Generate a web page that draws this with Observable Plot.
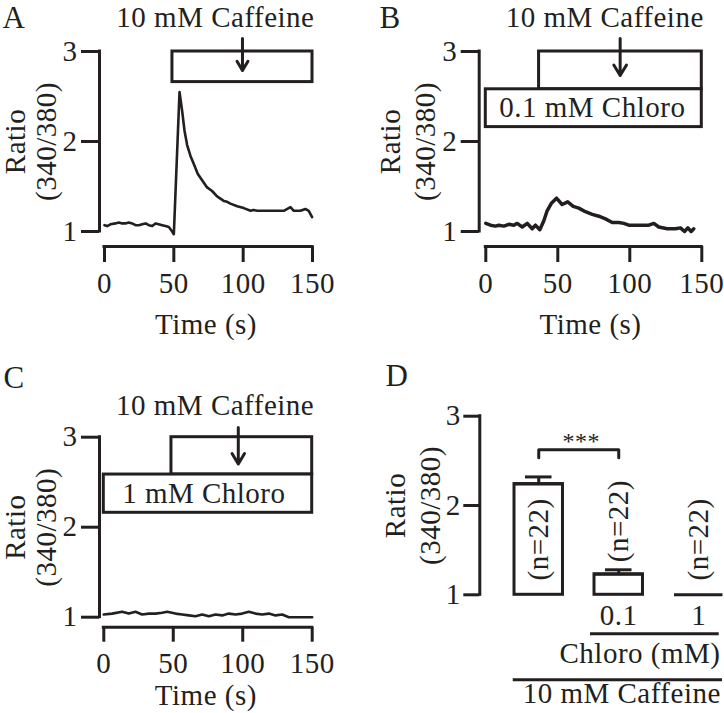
<!DOCTYPE html>
<html>
<head>
<meta charset="utf-8">
<script src="https://cdn.jsdelivr.net/npm/d3@7"></script>
<script src="https://cdn.jsdelivr.net/npm/@observablehq/plot@0.6"></script>
<style>
  body { margin: 0; background: #fff; }
  #fig { position: relative; width: 724px; height: 713px; overflow: hidden; background: #fff; }
  #fig > svg { position: absolute; }
</style>
</head>
<body>
<div id="fig"></div>
<script>
// ---------- data ----------
const timeTicks = [0, 50, 100, 150];
const ratioTicks = [1, 2, 3];

// Panel A: 10 mM caffeine alone
const timeA = [0, 1.9, 4.3, 7.9, 10.3, 12.7, 15.1, 17.5, 19.9, 22.4, 24.8, 27.2, 29.6, 32, 34.4, 36.8, 39.1, 41.6, 44, 46.4, 48.8, 50, 54.1, 56, 57.7, 59.6, 62, 64.4, 67.3, 70.4, 74, 77.6, 81.2, 86, 88.5, 90.8, 95.7, 100.4, 105.3, 107.5, 110, 119.7, 124, 129.3, 134.1, 136.5, 141.3, 144.9, 147.3, 149.7];
const ratioA = [1.07, 1.06, 1.08, 1.09, 1.10, 1.09, 1.09, 1.10, 1.09, 1.07, 1.07, 1.08, 1.09, 1.07, 1.06, 1.09, 1.08, 1.07, 1.06, 1.05, 1.00, 0.97, 2.55, 2.34, 2.12, 1.96, 1.84, 1.75, 1.64, 1.57, 1.49, 1.45, 1.39, 1.34, 1.33, 1.31, 1.28, 1.26, 1.23, 1.24, 1.23, 1.23, 1.23, 1.23, 1.27, 1.23, 1.23, 1.25, 1.23, 1.16];

// Panel B: 0.1 mM chloroquine + caffeine
const timeB = [0, 3.3, 6.7, 9, 12.5, 16, 19.4, 21.8, 25.3, 28.8, 32.2, 34.5, 37.5, 40.3, 42.6, 45.4, 49.1, 53, 56.9, 60.7, 64.6, 69.2, 73.9, 78.5, 83.1, 87.8, 92.4, 95.8, 99.3, 105.1, 109.7, 113.2, 116.7, 120.1, 126, 131.7, 135.2, 138, 140.3, 142.6, 144.4];
const ratioB = [1.09, 1.07, 1.06, 1.07, 1.06, 1.08, 1.07, 1.09, 1.05, 1.09, 1.03, 1.07, 1.02, 1.12, 1.23, 1.31, 1.37, 1.30, 1.33, 1.28, 1.26, 1.22, 1.19, 1.17, 1.14, 1.10, 1.10, 1.09, 1.07, 1.07, 1.07, 1.07, 1.09, 1.05, 1.03, 1.03, 1.04, 1.00, 1.04, 1.00, 1.03];

// Panel C: 1 mM chloroquine + caffeine
const timeC = [0, 6, 13.2, 18, 22.8, 27.6, 32.4, 37.2, 42, 45.6, 51.6, 56.4, 61.2, 66, 70.8, 75.6, 80.4, 85.2, 90, 94.8, 99.6, 104.4, 109.2, 114, 118.8, 123.6, 128.4, 133.2, 150];
const ratioC = [1.03, 1.04, 1.06, 1.04, 1.06, 1.03, 1.04, 1.04, 1.05, 1.06, 1.04, 1.03, 1.02, 1.01, 1.03, 1.01, 1.03, 1.02, 1.04, 1.03, 1.04, 1.06, 1.04, 1.03, 1.04, 1.02, 1.03, 1.00, 1.00];

// Panel D: peak ratio summary
const conditions = ["Caffeine", "0.1", "1"];
const tickLabels = ["", "0.1", "1"];
const peakMeans = [2.24, 1.23, 1.00];
const peakSems = [0.08, 0.05, 0];
const nCells = [22, 22, 22];

// ---------- drawing ----------
const FONT = "'Liberation Serif', 'Times New Roman', serif";
const INK = "#231f20";
const fig = document.getElementById("fig");
const intFmt = d3.format("d");

function place(svg, left, top) {
  svg.style.left = left + "px";
  svg.style.top = top + "px";
  fig.appendChild(svg);
}

function baseStyle() {
  return {fontFamily: FONT, fontSize: "29px", color: INK, background: "transparent", letterSpacing: "0.5px"};
}

function tracePanel(c) {
  const rows = c.time.map((t, i) => ({t, r: c.ratio[i]}));
  const marks = [
    Plot.ruleX([0], {y1: 1, y2: 3, dx: -c.insetLeft, stroke: INK, strokeWidth: 3, strokeLinecap: "square"}),
    Plot.axisY({ticks: ratioTicks, tickFormat: intFmt, tickSize: 18, tickPadding: 4, strokeWidth: 3, label: null}),
    Plot.ruleY([1], {x1: 0, x2: 150, dy: c.insetBottom, stroke: INK, strokeWidth: 3, strokeLinecap: "square"}),
    Plot.axisX({ticks: timeTicks, tickFormat: intFmt, tickSize: c.xTickSize, tickPadding: 10, strokeWidth: 3, label: null}),
    Plot.line(rows, {x: "t", y: "r", stroke: INK, strokeWidth: c.lineWidth}),
    Plot.rect(c.boxes, {x1: "x1", x2: "x2", y1: "y1", y2: "y2", fill: "white", stroke: INK, strokeWidth: 3}),
    Plot.text(c.boxes.filter(b => b.label), {x: "tx", y: d => (d.y1 + d.y2) / 2, text: "label", lineAnchor: "middle"}),
    Plot.arrow([c.arrow], {x1: "x", x2: "x", y1: "y1", y2: "y2", stroke: INK, strokeWidth: 3, headLength: 15, headAngle: 62}),
    Plot.text(["10 mM Caffeine"], {x: 150, frameAnchor: "top", dy: c.caffDy, dx: 2, textAnchor: "end", lineAnchor: "middle"}),
    Plot.text(["Time (s)"], {frameAnchor: "bottom", dy: c.timeDy, textAnchor: "middle", lineAnchor: "middle"}),
    Plot.text(["Ratio"], {y: [2], frameAnchor: "left", dx: c.ylab[0], rotate: -90, textAnchor: "middle", lineAnchor: "middle"}),
    Plot.text(["(340/380)"], {y: [2], frameAnchor: "left", dx: c.ylab[1], rotate: -90, textAnchor: "middle", lineAnchor: "middle"}),
    Plot.text([c.letter], {frameAnchor: "top-left", dx: c.letterPos[0], dy: c.letterPos[1], fontSize: 31, textAnchor: "start", lineAnchor: "top"})
  ];
  const svg = Plot.plot({
    width: c.width, height: c.height,
    marginLeft: c.mL, marginRight: c.mR, marginTop: c.mT, marginBottom: c.mB,
    style: baseStyle(),
    x: {domain: [0, 150], insetLeft: c.insetLeft},
    y: {domain: [1, 3], insetBottom: c.insetBottom},
    marks
  });
  place(svg, c.left, c.top);
}

// Panel A
tracePanel({
  letter: "A", time: timeA, ratio: ratioA, lineWidth: 2.6,
  left: 0, top: 0, width: 362, height: 340,
  mL: 99, mR: 50, mT: 51, mB: 94, insetLeft: 5, insetBottom: 15, xTickSize: 16,
  boxes: [{x1: 49, x2: 150, y1: 2.66, y2: 3}],
  arrow: {x: 99.5, y1: 3.144, y2: 2.79},
  caffDy: -34, timeDy: 78, ylab: [-84, -53], letterPos: [-97, -46]
});

// Panel B
tracePanel({
  letter: "B", time: timeB, ratio: ratioB, lineWidth: 3.5,
  left: 362, top: 0, width: 362, height: 340,
  mL: 116.7, mR: 22.7, mT: 51, mB: 94, insetLeft: 6.6, insetBottom: 15, xTickSize: 16,
  boxes: [
    {x1: 37, x2: 150, y1: 2.58, y2: 3},
    {x1: 0, x2: 150, y1: 2.16, y2: 2.58, label: "0.1 mM Chloro", tx: 74}
  ],
  arrow: {x: 93.3, y1: 3.144, y2: 2.733},
  caffDy: -34, timeDy: 78, ylab: [-88.4, -53.4], letterPos: [-99.7, -46]
});

// Panel C
tracePanel({
  letter: "C", time: timeC, ratio: ratioC, lineWidth: 2.6,
  left: 0, top: 340, width: 362, height: 373,
  mL: 99, mR: 50.3, mT: 96.7, mB: 86.3, insetLeft: 4.3, insetBottom: 10, xTickSize: 15,
  boxes: [
    {x1: 48.7, x2: 150, y1: 2.585, y2: 3},
    {x1: 0, x2: 150, y1: 2.16, y2: 2.585, label: "1 mM Chloro", tx: 72}
  ],
  arrow: {x: 96.8, y1: 3.108, y2: 2.703},
  caffDy: -31.7, timeDy: 68.3, ylab: [-84, -53], letterPos: [-96, -71.5]
});

// Panel D (bars placed on an index axis: 0 = caffeine alone, 1 = +0.1 mM, 2 = +1 mM chloro)
(function () {
  const rows = conditions.map((c, i) => ({i, cond: c, mean: peakMeans[i], sem: peakSems[i], n: nCells[i]}));
  const withErr = rows.filter(d => d.sem > 0);
  const half = 0.303, cap = 0.166;
  const inset = 18.95;
  const bracket = [
    {x: 0, y: 2.534}, {x: 0, y: 2.624}, {x: 1, y: 2.624}, {x: 1, y: 2.534}
  ];
  const svg = Plot.plot({
    width: 362, height: 373,
    marginLeft: 117.3, marginRight: 0, marginTop: 75.7, marginBottom: 118.7,
    style: baseStyle(),
    x: {domain: [-0.5, 2.322], insetLeft: inset},
    y: {domain: [1, 3]},
    marks: [
      Plot.axisY({ticks: ratioTicks, tickFormat: intFmt, tickSize: 16, tickPadding: 3, strokeWidth: 3, stroke: INK, label: null}),
      Plot.ruleX([-0.5], {y1: 1, y2: 3, dx: -inset, stroke: INK, strokeWidth: 3, strokeLinecap: "square"}),
      Plot.axisX({ticks: [1, 2], tickSize: 0, tickPadding: 10, tickFormat: i => tickLabels[i], label: null}),
      Plot.rect(rows, {x1: d => d.i - half, x2: d => d.i + half, y1: 1, y2: "mean", fill: "white", stroke: INK, strokeWidth: 3}),
      Plot.ruleY(rows, {x1: d => d.i - half, x2: d => d.i + half, y: "mean", stroke: INK, strokeWidth: 3}),
      Plot.ruleX(withErr, {x: "i", y1: "mean", y2: d => d.mean + d.sem, stroke: INK, strokeWidth: 3}),
      Plot.ruleY(withErr, {x1: d => d.i - cap, x2: d => d.i + cap, y: d => d.mean + d.sem, stroke: INK, strokeWidth: 3}),
      Plot.text(rows, {x: "i", y: d => (d.sem > 0 && d.mean < 1.5) ? d.mean + d.sem + 0.085 : 1.16,
        text: d => `(n=${d.n})`, rotate: -90, textAnchor: "start", lineAnchor: "middle"}),
      Plot.line(bracket, {x: "x", y: "y", stroke: INK, strokeWidth: 3}),
      Plot.text(["***"], {x: [0.53], y: [2.72], fontSize: 24, lineAnchor: "middle"}),
      Plot.ruleY([1], {x1: 0.647, x2: 2.256, dy: 39, stroke: INK, strokeWidth: 3}),
      Plot.ruleY([1], {x1: -0.319, x2: 2.297, dy: 85, stroke: INK, strokeWidth: 3}),
      Plot.text(["Chloro (mM)"], {x: [2.272], frameAnchor: "bottom", dy: 59, textAnchor: "end", lineAnchor: "middle"}),
      Plot.text(["10 mM Caffeine"], {x: [2.276], frameAnchor: "bottom", dy: 99, textAnchor: "end", lineAnchor: "middle"}),
      Plot.text(["Ratio"], {y: [2], frameAnchor: "left", dx: -84.3, rotate: -90, textAnchor: "middle", lineAnchor: "middle"}),
      Plot.text(["(340/380)"], {y: [2], frameAnchor: "left", dx: -49.3, rotate: -90, textAnchor: "middle", lineAnchor: "middle"}),
      Plot.text(["D"], {frameAnchor: "top-left", dx: -94.3, dy: -52.5, fontSize: 31, textAnchor: "start", lineAnchor: "top"})
    ]
  });
  place(svg, 362, 340);
})();
</script>
</body>
</html>
